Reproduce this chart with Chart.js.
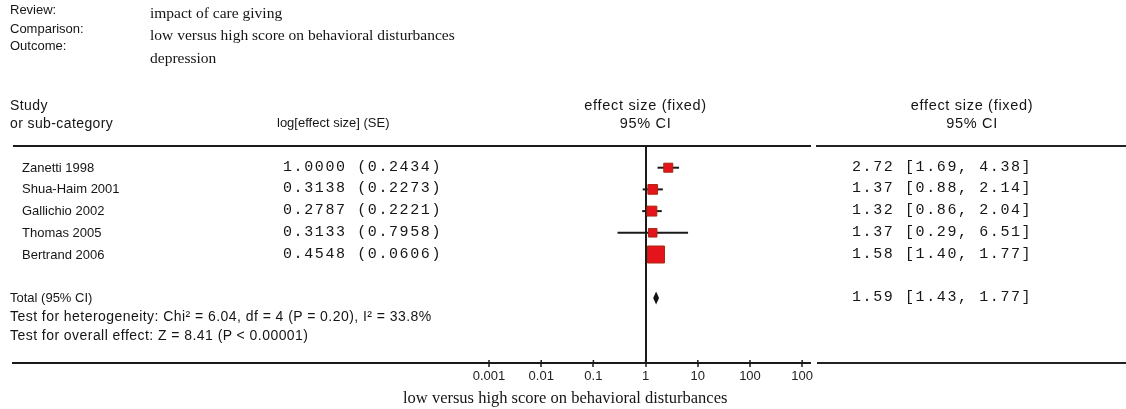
<!DOCTYPE html>
<html>
<head>
<meta charset="utf-8">
<script src="https://cdn.jsdelivr.net/npm/chart.js@4.4.1/dist/chart.umd.min.js"></script>
<style>
  body { margin: 0; background: #fff; }
  #wrap { position: relative; width: 1126px; height: 409px; overflow: hidden; }
  #plot { position: absolute; left: 0; top: 0; }
  .t { position: absolute; white-space: nowrap; line-height: 16px; color: #151515; }
  .sans { font-family: "Liberation Sans", Arial, sans-serif; font-size: 13px; }
  .serif { font-family: "Liberation Serif", "Times New Roman", serif; font-size: 15.5px; }
  .mono { font-family: "Liberation Mono", "Courier New", monospace; font-size: 15px; letter-spacing: 1.6px; }
  .head { font-size: 14px; letter-spacing: 0.4px; }
  .colhead { font-size: 14.5px; letter-spacing: 0.7px; }
  .foot { font-size: 14px; letter-spacing: 0.45px; }
  .rule { position: absolute; height: 2px; background: #222; }
</style>
</head>
<body>
<div id="wrap">
  <canvas id="plot" width="1126" height="409"></canvas>
  <div class="rule" style="left:816px; top:145px; width:310px;"></div>
  <div class="rule" style="left:817px; top:362px; width:309px;"></div>
</div>
<script>
const STUDIES  = ['Zanetti 1998', 'Shua-Haim 2001', 'Gallichio 2002', 'Thomas 2005', 'Bertrand 2006'];
const LOG_ES   = [1.0000, 0.3138, 0.2787, 0.3133, 0.4548];
const SE       = [0.2434, 0.2273, 0.2221, 0.7958, 0.0606];
const EFFECT   = [2.72, 1.37, 1.32, 1.37, 1.58];
const CI_LOW   = [1.69, 0.88, 0.86, 0.29, 1.40];
const CI_HIGH  = [4.38, 2.14, 2.04, 6.51, 1.77];

const TOTAL_EFFECT = 1.59;
const TOTAL_LOW    = 1.43;
const TOTAL_HIGH   = 1.77;
const TOTAL_ROW    = 6;

const TICK_VALUES = [0.001, 0.01, 0.1, 1, 10, 100, 1000];
const TICK_LABELS = ['0.001', '0.01', '0.1', '1', '10', '100', '100'];

const HEADER = [
  ['Review:', 'impact of care giving'],
  ['Comparison:', 'low versus high score on behavioral disturbances'],
  ['Outcome:', 'depression'],
];
const FOOTNOTES = [
  'Test for heterogeneity: Chi\u00b2 = 6.04, df = 4 (P = 0.20), I\u00b2 = 33.8%',
  'Test for overall effect: Z = 8.41 (P < 0.00001)',
];
const AXIS_TITLE = 'low versus high score on behavioral disturbances';

const wrap = document.getElementById('wrap');

function place(text, x, y, cls, align) {
  const d = document.createElement('div');
  d.className = 't ' + cls;
  d.textContent = text;
  d.style.top = (y - 8) + 'px';
  d.style.left = x + 'px';
  if (align === 'center') d.style.transform = 'translateX(-50%)';
  wrap.appendChild(d);
}

// whiskers, top rule, tick crosses and the pooled diamond
const forestPlugin = {
  id: 'forest',
  beforeDatasetsDraw(chart) {
    const { ctx, chartArea, scales: { x, y } } = chart;
    ctx.save();
    ctx.strokeStyle = '#1a1a1a';
    ctx.lineWidth = 2;
    ctx.beginPath();
    ctx.moveTo(chartArea.left, chartArea.top);
    ctx.lineTo(chartArea.right + 1, chartArea.top);
    ctx.stroke();
    STUDIES.forEach((s, i) => {
      const py = y.getPixelForValue(i);
      ctx.beginPath();
      ctx.moveTo(x.getPixelForValue(CI_LOW[i]), py);
      ctx.lineTo(x.getPixelForValue(CI_HIGH[i]), py);
      ctx.stroke();
    });
    // short tick stubs above the axis line
    ctx.lineWidth = 1.5;
    x.ticks.forEach(t => {
      const px = x.getPixelForValue(t.value);
      ctx.beginPath();
      ctx.moveTo(px, chartArea.bottom - 3);
      ctx.lineTo(px, chartArea.bottom);
      ctx.stroke();
    });
    ctx.restore();
  },
  afterDatasetsDraw(chart) {
    const { ctx, scales: { x, y } } = chart;
    const py = y.getPixelForValue(TOTAL_ROW);
    ctx.save();
    ctx.fillStyle = '#111';
    ctx.beginPath();
    ctx.moveTo(x.getPixelForValue(TOTAL_LOW) - 0.5, py);
    ctx.lineTo(x.getPixelForValue(TOTAL_EFFECT), py - 6.5);
    ctx.lineTo(x.getPixelForValue(TOTAL_HIGH) + 0.5, py);
    ctx.lineTo(x.getPixelForValue(TOTAL_EFFECT), py + 6.5);
    ctx.closePath();
    ctx.fill();
    ctx.restore();
  },
};

const chart = new Chart(document.getElementById('plot'), {
  type: 'scatter',
  plugins: [forestPlugin],
  data: {
    datasets: [{
      data: STUDIES.map((s, i) => ({ x: EFFECT[i], y: i })),
      pointStyle: 'rect',
      pointRadius: ctx => {
        const side = Math.max(8.5, Math.min(17, 2.2 / SE[ctx.dataIndex]));
        return side / (2 * Math.SQRT1_2);
      },
      backgroundColor: '#e5141c',
      borderColor: '#a8280e',
      borderWidth: 1,
    }],
  },
  options: {
    responsive: false,
    animation: false,
    events: [],
    layout: { padding: { left: 12, right: 316, top: 146, bottom: 0 } },
    plugins: { legend: { display: false }, tooltip: { enabled: false } },
    scales: {
      x: {
        type: 'logarithmic',
        min: Math.pow(10, -12.12),
        max: Math.pow(10, 3.15),
        afterBuildTicks: scale => { scale.ticks = TICK_VALUES.map(v => ({ value: v })); },
        afterFit: scale => { scale.height = 46; },
        ticks: {
          autoSkip: false,
          maxRotation: 0,
          padding: 2,
          color: '#222',
          font: { family: '"Liberation Sans", Arial, sans-serif', size: 13 },
          callback: (v, i) => TICK_LABELS[i],
        },
        grid: {
          color: ctx => (ctx.tick && ctx.tick.value === 1 ? '#1a1a1a' : 'rgba(0,0,0,0)'),
          lineWidth: 2,
          tickColor: '#1a1a1a',
          tickWidth: 1.5,
          tickLength: 4,
        },
        border: { display: true, color: '#1a1a1a', width: 2 },
      },
      y: { type: 'linear', min: -1, max: 9, reverse: true, display: false },
    },
  },
});

// table text
const xs = chart.scales.x;
const ys = chart.scales.y;
const centerX = xs.getPixelForValue(1);

HEADER.forEach((h, i) => {
  place(h[0], 10, [10, 29, 46][i], 'sans');
  place(h[1], 150, [13, 35, 58][i], 'serif');
});
place('Study', 10, 105, 'sans head');
place('or sub-category', 10, 123, 'sans head');
place('log[effect size] (SE)', 277, 123, 'sans');
place('effect size (fixed)', centerX, 105, 'sans colhead', 'center');
place('95% CI', centerX, 123, 'sans colhead', 'center');
place('effect size (fixed)', 972, 105, 'sans colhead', 'center');
place('95% CI', 972, 123, 'sans colhead', 'center');

STUDIES.forEach((s, i) => {
  const py = ys.getPixelForValue(i);
  place(s, 22, py, 'sans');
  place(LOG_ES[i].toFixed(4) + ' (' + SE[i].toFixed(4) + ')', 283, py, 'mono');
  place(EFFECT[i].toFixed(2) + ' [' + CI_LOW[i].toFixed(2) + ', ' + CI_HIGH[i].toFixed(2) + ']', 852, py, 'mono');
});

const totalY = ys.getPixelForValue(TOTAL_ROW);
place('Total (95% CI)', 10, totalY, 'sans');
place(TOTAL_EFFECT.toFixed(2) + ' [' + TOTAL_LOW.toFixed(2) + ', ' + TOTAL_HIGH.toFixed(2) + ']', 852, totalY, 'mono');
FOOTNOTES.forEach((f, i) => place(f, 10, totalY + 18 + i * 19, 'sans foot'));

const axisTitle = document.createElement('div');
axisTitle.className = 't serif';
axisTitle.style.fontSize = '16.5px';
axisTitle.style.left = '403px';
axisTitle.style.top = '390px';
axisTitle.textContent = AXIS_TITLE;
wrap.appendChild(axisTitle);
</script>
</body>
</html>
